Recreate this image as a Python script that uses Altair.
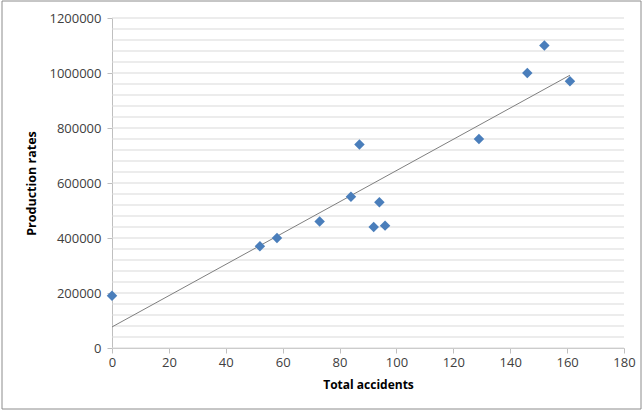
import altair as alt
import pandas as pd

# Accidents vs. production
total_accidents = [0, 52, 58, 73, 84, 87, 92, 94, 96, 129, 146, 152, 161]
production_rates = [190000, 370000, 400000, 460000, 550000, 740000, 440000,
                    530000, 445000, 760000, 1000000, 1100000, 970000]

x_ticks = list(range(0, 181, 20))
y_ticks = list(range(0, 1200001, 200000))
grid_lines = list(range(0, 1200001, 40000))

df = pd.DataFrame({"accidents": total_accidents, "production": production_rates})
grid_df = pd.DataFrame({"g": grid_lines})

FONT = "Open Sans"

x_scale = alt.Scale(domain=[0, 180], nice=False)
y_scale = alt.Scale(domain=[0, 1200000], nice=False)

x_axis = alt.Axis(values=x_ticks, title="Total accidents", grid=False, format="d",
                  domainColor="#bfbfbf", tickColor="#bfbfbf", tickSize=5,
                  labelPadding=3, titlePadding=10, titleFontSize=12,
                  labelFlush=False)
y_axis = alt.Axis(values=y_ticks, title="Production rates", grid=False, format="d",
                  domainColor="#bfbfbf", tickColor="#bfbfbf", tickSize=5,
                  labelPadding=6, titlePadding=10, titleFontSize=12.5,
                  labelFlush=False)

grid = alt.Chart(grid_df).mark_rule(color="#d9d9d9", strokeWidth=1).encode(
    y=alt.Y("g:Q", scale=y_scale, axis=y_axis)
)

points = alt.Chart(df).mark_point(
    shape="diamond", filled=True, size=110, color="#4a7ebb", opacity=1
).encode(
    x=alt.X("accidents:Q", scale=x_scale, axis=x_axis),
    y=alt.Y("production:Q", scale=y_scale, axis=y_axis),
)

trend = alt.Chart(df).transform_regression(
    "accidents", "production"
).mark_line(color="#7f7f7f", strokeWidth=1).encode(
    x=alt.X("accidents:Q", scale=x_scale, axis=x_axis),
    y=alt.Y("production:Q", scale=y_scale, axis=y_axis),
)

# outer frame around the whole figure
frame = alt.Chart(pd.DataFrame({"k": [0]})).mark_rect(
    fill=None, stroke="#8c8c8c", strokeWidth=1
).encode(
    x=alt.value(-110), x2=alt.value(529),
    y=alt.value(-17), y2=alt.value(391),
)

chart = alt.layer(grid, trend, points, frame).properties(
    width=512, height=330,
    autosize=alt.AutoSizeParams(type="none"),
    padding={"left": 112, "top": 18, "right": 19, "bottom": 62},
    background="white",
).configure_view(stroke=None).configure_axis(
    labelFont=FONT, titleFont=FONT, labelFontSize=13,
    labelColor="#404040", titleColor="#000000", titleFontWeight="bold",
)

chart.save("out.html", embed_options={"renderer": "svg", "actions": False})
